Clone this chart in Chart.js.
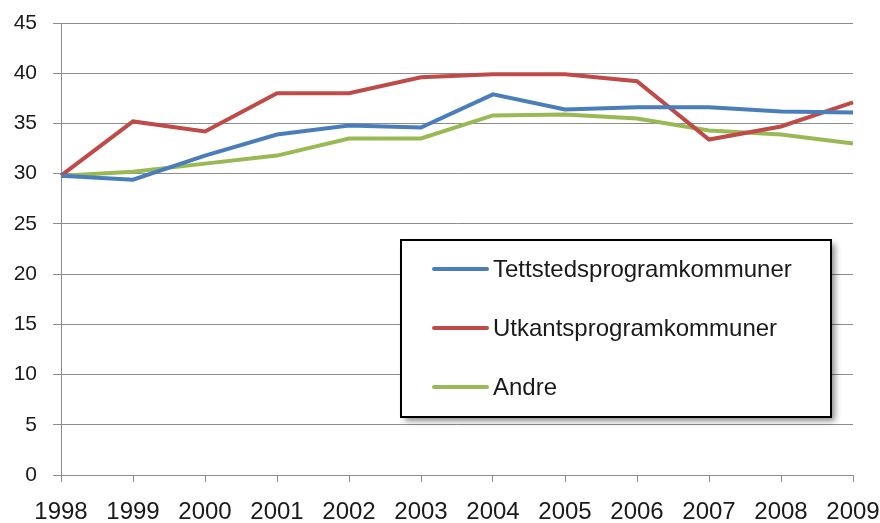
<!DOCTYPE html>
<html>
<head>
<meta charset="utf-8">
<script src="https://cdn.jsdelivr.net/npm/chart.js@4.4.1/dist/chart.umd.min.js"></script>
<style>
  html, body { margin: 0; padding: 0; background: #fff; }
  #wrap { width: 880px; height: 523px; }
</style>
</head>
<body>
<div id="wrap"><canvas id="chart" width="880" height="523"></canvas></div>
<script>
// -----------------------------
// Data
// -----------------------------
const years = ["1998", "1999", "2000", "2001", "2002", "2003", "2004", "2005", "2006", "2007", "2008", "2009"];
const tettsteds = [29.8, 29.4, 31.8, 33.9, 34.8, 34.6, 37.9, 36.4, 36.6, 36.6, 36.2, 36.1];
const utkants = [29.8, 35.2, 34.2, 38.0, 38.0, 39.6, 39.9, 39.9, 39.2, 33.4, 34.7, 37.1];
const andre = [29.8, 30.2, 31.0, 31.8, 33.5, 33.5, 35.8, 35.9, 35.5, 34.3, 33.9, 33.0];
const seriesNames = ["Tettstedsprogramkommuner", "Utkantsprogramkommuner", "Andre"];
const seriesColors = ["#4a7ebb", "#be4b48", "#98b954"];

const gridColor = "#8c8c8c";
const labelColor = "#1a1a1a";

// -----------------------------
// Boxed legend drawn inside the plot area
// -----------------------------
const boxLegend = {
  id: "boxLegend",
  afterDraw(chart) {
    const { ctx } = chart;
    const x = 401;
    const y = 240;
    const w = 430;
    const h = 177;

    ctx.save();
    ctx.shadowColor = "rgba(0,0,0,0.45)";
    ctx.shadowBlur = 6;
    ctx.shadowOffsetX = 4;
    ctx.shadowOffsetY = 4;
    ctx.fillStyle = "#fff";
    ctx.fillRect(x, y, w, h);
    ctx.restore();

    ctx.save();
    ctx.strokeStyle = "#000";
    ctx.lineWidth = 2;
    ctx.strokeRect(x, y, w, h);

    ctx.font = '24px "Liberation Sans", Arial, sans-serif';
    ctx.textBaseline = "middle";
    ctx.fillStyle = labelColor;
    chart.data.datasets.forEach((ds, i) => {
      const rowY = y + 29 + i * 59;
      ctx.strokeStyle = ds.borderColor;
      ctx.lineWidth = 4;
      ctx.lineCap = "round";
      ctx.beginPath();
      ctx.moveTo(x + 33, rowY);
      ctx.lineTo(x + 86, rowY);
      ctx.stroke();
      ctx.fillText(ds.label, x + 92, rowY + 1);
    });
    ctx.restore();
  }
};

const ctx = document.getElementById("chart").getContext("2d");

new Chart(ctx, {
  type: "line",
  data: {
    labels: years,
    datasets: [tettsteds, utkants, andre].map((vals, i) => ({
      label: seriesNames[i],
      data: vals,
      borderColor: seriesColors[i],
      backgroundColor: seriesColors[i],
      borderWidth: 4,
      pointRadius: 0,
      tension: 0,
      fill: false
    }))
  },
  options: {
    responsive: false,
    animation: false,
    layout: { padding: { top: 23, right: 27, left: 0, bottom: 0 } },
    plugins: {
      legend: { display: false },
      tooltip: { enabled: false }
    },
    scales: {
      x: {
        offset: false,
        grid: {
          display: true,
          drawOnChartArea: false,
          drawTicks: true,
          tickLength: 7,
          color: gridColor
        },
        border: { color: gridColor, width: 1 },
        ticks: {
          color: labelColor,
          font: { family: '"Liberation Sans", Arial, sans-serif', size: 24 },
          maxRotation: 0,
          autoSkip: false,
          padding: 16
        },
        afterFit(scale) {
          scale.height = 48;
          scale.paddingLeft = 0;
          scale.paddingRight = 0;
        }
      },
      y: {
        min: 0,
        max: 45,
        ticks: {
          stepSize: 5,
          color: labelColor,
          font: { family: '"Liberation Sans", Arial, sans-serif', size: 21 },
          padding: 16
        },
        grid: {
          color: gridColor,
          tickLength: 8,
          drawTicks: true
        },
        border: { color: gridColor, width: 1 },
        afterFit(scale) {
          scale.width = 61;
          scale.paddingTop = 0;
          scale.paddingBottom = 0;
        }
      }
    }
  },
  plugins: [boxLegend]
});
</script>
</body>
</html>
